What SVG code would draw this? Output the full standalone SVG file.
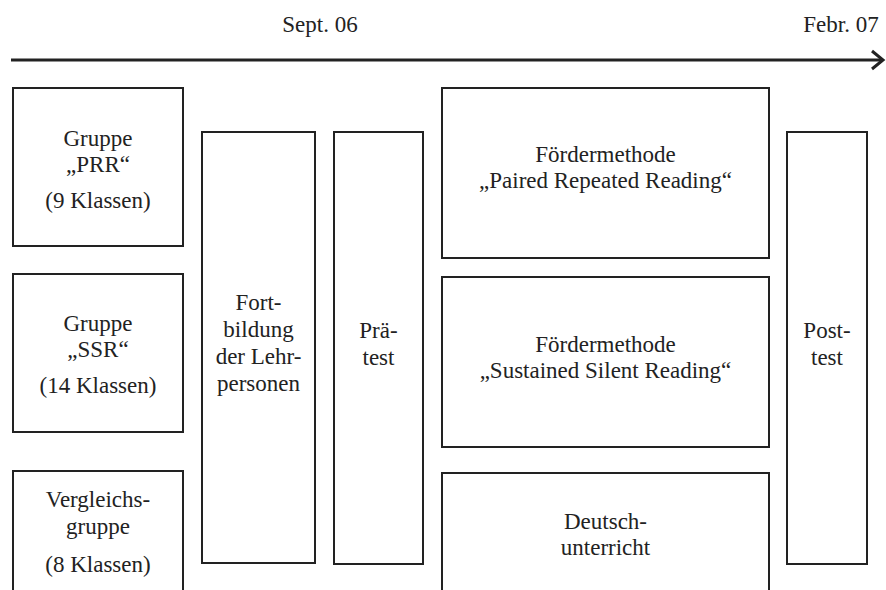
<svg xmlns="http://www.w3.org/2000/svg" width="886" height="590" viewBox="0 0 886 590">
<style>
.box{fill:#fff;stroke:#222;stroke-width:2}
.t{font-family:'Liberation Serif','DejaVu Serif',serif;font-size:23px;fill:#222;text-anchor:middle}
.ax{stroke:#222;stroke-width:3;fill:none}
</style>
<rect width="886" height="590" fill="#fff"/>
<g id="timeline">
<text class="t" x="320" y="32">Sept. 06</text>
<text class="t" x="841" y="32">Febr. 07</text>
</g>
<g id="connectors">
<line class="ax" x1="11" y1="60" x2="882" y2="60"/>
<polyline class="ax" points="872,51 883,60 872,69" stroke-linejoin="miter"/>
</g>
<g id="gruppe-prr">
<rect class="box" x="13" y="88" width="170" height="158"/>
<text class="t" x="98" y="146">Gruppe</text>
<text class="t" x="98" y="172">„PRR“</text>
<text class="t" x="98" y="208">(9 Klassen)</text>
</g>
<g id="gruppe-ssr">
<rect class="box" x="13" y="274" width="170" height="158"/>
<text class="t" x="98" y="331">Gruppe</text>
<text class="t" x="98" y="357">„SSR“</text>
<text class="t" x="98" y="393">(14 Klassen)</text>
</g>
<g id="vergleichsgruppe">
<rect class="box" x="13" y="471" width="170" height="140"/>
<text class="t" x="98" y="507">Vergleichs-</text>
<text class="t" x="98" y="534">gruppe</text>
<text class="t" x="98" y="572">(8 Klassen)</text>
</g>
<g id="fortbildung">
<rect class="box" x="202" y="132" width="113" height="431"/>
<text class="t" x="258.5" y="310">Fort-</text>
<text class="t" x="258.5" y="337">bildung</text>
<text class="t" x="258.5" y="364">der Lehr-</text>
<text class="t" x="258.5" y="391">personen</text>
</g>
<g id="praetest">
<rect class="box" x="334" y="132" width="89" height="432"/>
<text class="t" x="378.5" y="338">Prä-</text>
<text class="t" x="378.5" y="365">test</text>
</g>
<g id="methode-prr">
<rect class="box" x="442" y="88" width="327" height="170"/>
<text class="t" x="605.5" y="162">Fördermethode</text>
<text class="t" x="605.5" y="188">„Paired Repeated Reading“</text>
</g>
<g id="methode-ssr">
<rect class="box" x="442" y="277" width="327" height="170"/>
<text class="t" x="605.5" y="352">Fördermethode</text>
<text class="t" x="605.5" y="378">„Sustained Silent Reading“</text>
</g>
<g id="deutschunterricht">
<rect class="box" x="442" y="473" width="327" height="140"/>
<text class="t" x="605.5" y="529">Deutsch-</text>
<text class="t" x="605.5" y="555">unterricht</text>
</g>
<g id="posttest">
<rect class="box" x="787" y="132" width="80" height="432"/>
<text class="t" x="827" y="338">Post-</text>
<text class="t" x="827" y="365">test</text>
</g>
</svg>
